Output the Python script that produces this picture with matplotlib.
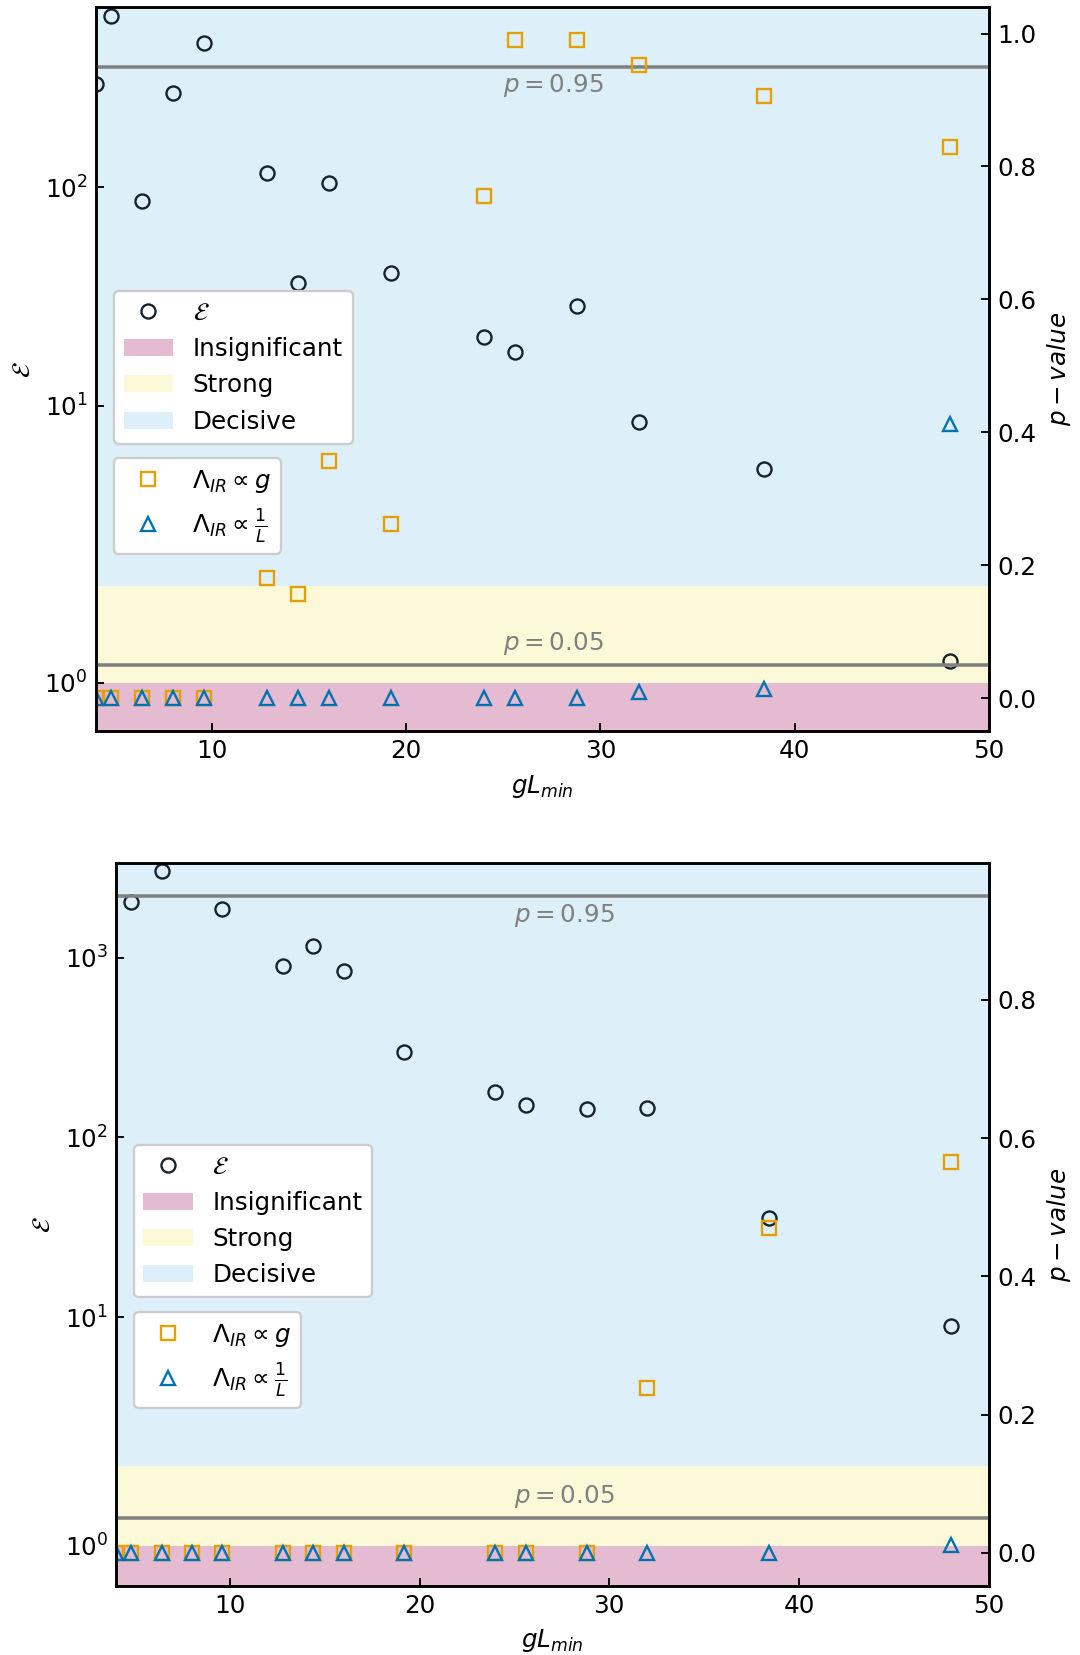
import numpy as np
import matplotlib
matplotlib.use("Agg")
import matplotlib.pyplot as plt
from matplotlib.ticker import NullLocator, MultipleLocator

plt.rcParams["font.size"] = 10.5
plt.rcParams["axes.linewidth"] = 1.1

# gL_min values shared by both panels
gL_min = [4.0, 4.8, 6.4, 8.0, 9.6, 12.8, 14.4, 16.0, 19.2, 24.0, 25.6, 28.8, 32.0, 38.4, 48.0]

# upper panel: evidence ratio and p-values of the two alternative models
evidence_top = [297, 608, 87, 272, 457, 117, 36.6, 105, 40.4, 20.7, 17.6, 28.7, 8.4, 5.1, 1.22]
p_g_top = [0, 0, 0, 0, 0, 0.180, 0.156, 0.357, 0.262, 0.756, 0.99, 0.99, 0.952, 0.906, 0.829]
p_L_top = [0, 0, 0, 0, 0, 0, 0, 0, 0, 0, 0, 0, 0.009, 0.0135, 0.413]

# lower panel (no evidence estimate at gL_min = 4.0 and 8.0)
evidence_bot = [np.nan, 2048, 3036, np.nan, 1866, 899, 1166, 840, 300, 180, 151, 144, 145, 35.5, 8.95]
p_g_bot = [0, 0, 0, 0, 0, 0, 0, 0, 0, 0, 0, 0, 0.239, 0.470, 0.566]
p_L_bot = [0, 0, 0, 0, 0, 0, 0, 0, 0, 0, 0, 0, 0, 0, 0.0117]

# Jeffreys-like bands on the evidence axis
band_edges = [0.5, 1.0, 2.0, 1e6]
band_labels = ["Insignificant", "Strong", "Decisive"]
band_colors = ["#CC79A7", "#F0E442", "#56B4E9"]
band_alphas = [0.5, 0.2, 0.2]

p_levels = [0.95, 0.05]

C_G = "#E69F00"
C_L = "#0072B2"
C_E = "#0b1620"

DPI = 168.75
fig = plt.figure(figsize=(1080 / DPI, 1655 / DPI), dpi=DPI)


def draw_panel(rect, evidence, p_g, p_L, leg1_anchor, leg2_anchor):
    ax = fig.add_axes(rect)
    ax.set_yscale("symlog", linthresh=2.5)
    spans = []
    for lo, hi, lab, col, a in zip(band_edges[:-1], band_edges[1:], band_labels,
                                   band_colors, band_alphas):
        spans.append(ax.axhspan(lo, hi, color=col, alpha=a, lw=0, label=lab))
    circ, = ax.plot(gL_min, evidence, ls="none", marker="o", mfc="none",
                    mec=C_E, alpha=0.95, label=r"$\mathcal{E}$")
    ax.set_xlim(4, 50)
    ax.set_ylim(0.5, 1.1 * np.nanmax(evidence))
    ax.yaxis.set_minor_locator(NullLocator())
    ax.xaxis.set_major_locator(MultipleLocator(10))
    ax.tick_params(direction="in", which="both")
    ax.set_xlabel(r"$gL_{min}$")
    ax.set_ylabel(r"$\mathcal{E}$")

    ax2 = ax.twinx()
    for lev in p_levels:
        ax2.axhline(lev, color="gray", lw=1.5)
    ax2.text(25, p_levels[0] - 0.0085, r"$p = 0.95$", color="gray", ha="left", va="top")
    ax2.text(25, p_levels[1] + 0.012, r"$p = 0.05$", color="gray", ha="left", va="bottom")
    sq, = ax2.plot(gL_min, p_g, ls="none", marker="s", mfc="none", mec=C_G,
                   label=r"$\Lambda_{IR} \propto g$")
    tri, = ax2.plot(gL_min, p_L, ls="none", marker="^", mfc="none", mec=C_L,
                    label=r"$\Lambda_{IR} \propto \frac{1}{L}$")
    ax2.tick_params(direction="in")
    ax2.set_ylabel(r"$p-value$")

    leg1 = ax2.legend(handles=[circ] + spans, loc="upper left", framealpha=1,
                      bbox_to_anchor=leg1_anchor, borderaxespad=0)
    ax2.add_artist(leg1)
    ax2.legend(handles=[sq, tri], loc="upper left", framealpha=1,
               bbox_to_anchor=leg2_anchor, borderaxespad=0)
    return ax, ax2


draw_panel([0.08861, 0.55831, 0.82685, 0.43728], evidence_top, p_g_top, p_L_top,
           (0.0205, 0.608), (0.0200, 0.3776))
draw_panel([0.10750, 0.04187, 0.80796, 0.43650], evidence_bot, p_g_bot, p_L_bot,
           (0.0201, 0.6105), (0.0201, 0.3793))

fig.savefig("out.png", dpi=DPI)
